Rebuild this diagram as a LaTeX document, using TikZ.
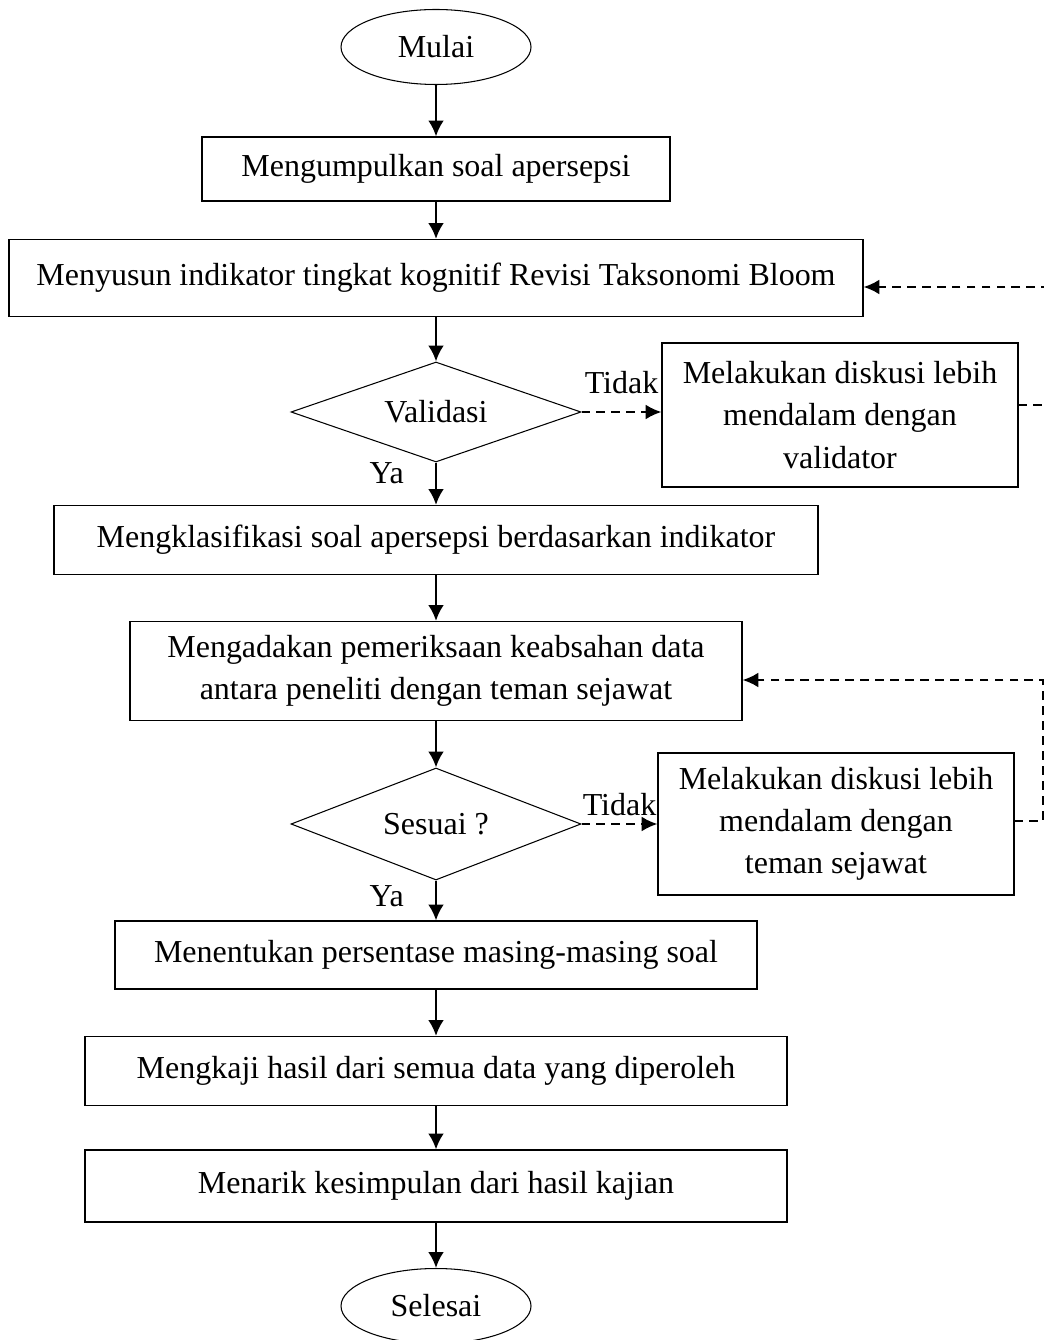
\documentclass[tikz,border=0pt]{standalone}
\usepackage{fontspec}
\setmainfont{Liberation Serif}
\usetikzlibrary{shapes.geometric, positioning, arrows.meta, calc}

\begin{document}
\begin{tikzpicture}[node distance=2.5cm,on grid,
    font=\fontsize{18.2}{24}\selectfont,
    proses/.style={draw, line width=0.6pt, rectangle, align=center, minimum height=1.38cm},
    mulaiakhir/.style={draw, line width=0.6pt, ellipse, minimum width=3.8cm, minimum height=1.5cm},
    keputusan/.style={draw, line width=0.6pt, diamond, aspect=2.9, minimum width=5.8cm, minimum height=2cm, inner sep=0pt},
    panah/.style={-{Latex[length=9pt,width=9pt]}, line width=1.6pt},
    balik/.style={-{Latex[length=9pt,width=8.5pt]}, line width=1.3pt, dash pattern=on 5pt off 3.5pt}]
    \useasboundingbox (0,0) rectangle (20.88,-26.8);

    \node[mulaiakhir] (mulai) at (8.72,-0.94) {Mulai};
    \node[proses, minimum width=9.36cm, minimum height=1.28cm] (kumpul) [below=2.44cm of mulai] {Mengumpulkan soal apersepsi};
    \node[proses, minimum width=17.08cm, minimum height=1.54cm] (susun) [below=2.18cm of kumpul] {Menyusun indikator tingkat kognitif Revisi Taksonomi Bloom};
    \node[keputusan] (validasi) [below=2.68cm of susun] {Validasi};
    \node[proses, minimum width=7.12cm, minimum height=2.88cm] (diskusiA) [below right=0.06cm and 8.08cm of validasi] {Melakukan diskusi lebih\\ mendalam dengan\\ validator};
    \node[proses, minimum width=15.28cm] (klasifikasi) [below=2.56cm of validasi] {Mengklasifikasi soal apersepsi berdasarkan indikator};
    \node[proses, minimum width=12.24cm, minimum height=1.98cm] (periksa) [below=2.62cm of klasifikasi] {Mengadakan pemeriksaan keabsahan data\\ antara peneliti dengan teman sejawat};
    \node[keputusan, minimum height=2.24cm] (sesuai) [below=3.06cm of periksa] {Sesuai ?};
    \node[proses, minimum width=7.12cm, minimum height=2.84cm] (diskusiB) [right=8.0cm of sesuai] {Melakukan diskusi lebih\\ mendalam dengan\\ teman sejawat};
    \node[proses, minimum width=12.84cm, minimum height=1.36cm] (persen) [below=2.62cm of sesuai] {Menentukan persentase masing-masing soal};
    \node[proses, minimum width=14.04cm] (kaji) [below=2.32cm of persen] {Mengkaji hasil dari semua data yang diperoleh};
    \node[proses, minimum width=14.04cm, minimum height=1.44cm] (tarik) [below=2.3cm of kaji] {Menarik kesimpulan dari hasil kajian};
    \node[mulaiakhir] (selesai) [below=2.4cm of tarik] {Selesai};

    % ujung garis putus-putus
    \coordinate (keluarA) at ($(diskusiA.east)+(0,0.2)$);
    \coordinate (masukA) at ($(susun.east)+(0,-0.18)$);
    \coordinate (keluarB) at ($(diskusiB.east)+(0,0.06)$);
    \coordinate (masukB) at ($(periksa.east)+(0,-0.18)$);
    \coordinate (belokA) at (21.0,0);
    \coordinate (belokB) at (20.86,0);

    \draw[panah] (mulai) -- (kumpul);
    \draw[panah] (kumpul) -- (susun);
    \draw[panah] (susun) -- (validasi);
    \draw[panah] (validasi) -- node[pos=0.25, left=0.5cm] {Ya} (klasifikasi);
    \draw[panah] (klasifikasi) -- (periksa);
    \draw[panah] (periksa) -- (sesuai);
    \draw[panah] (sesuai) -- node[pos=0.38, left=0.5cm] {Ya} (persen);
    \draw[panah] (persen) -- (kaji);
    \draw[panah] (kaji) -- (tarik);
    \draw[panah] (tarik) -- (selesai);

    \draw[balik] (validasi.east) -- node[above=0.22cm] {Tidak} (diskusiA.west |- validasi.east);
    \draw[balik] (sesuai.east) -- node[above=0.02cm] {Tidak} (diskusiB.west);

    \draw[balik] (keluarA) -- (belokA |- keluarA) -- (belokA |- masukA) -- (masukA);
    \draw[balik] (keluarB) -- (belokB |- keluarB) -- (belokB |- masukB) -- (masukB);
\end{tikzpicture}
\end{document}
